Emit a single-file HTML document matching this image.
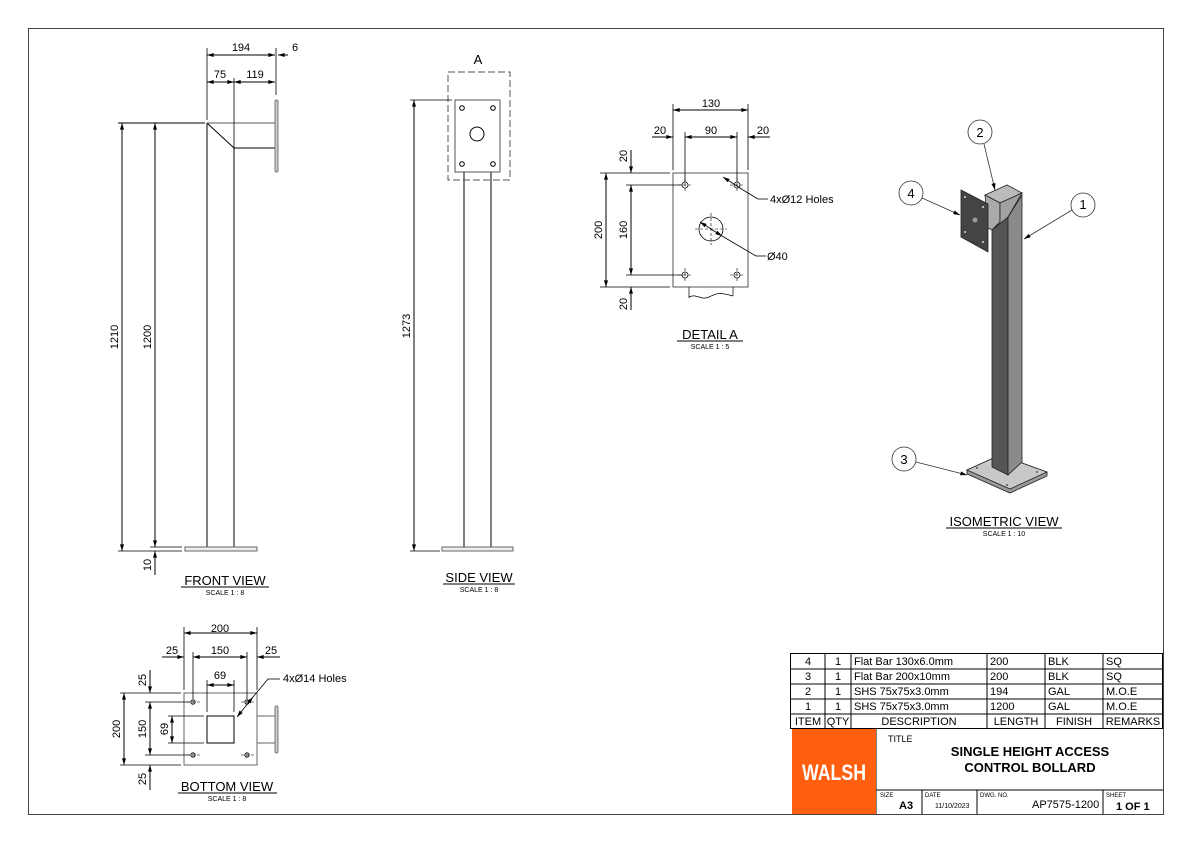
<!DOCTYPE html>
<html><head><meta charset="utf-8"><style>
html,body{margin:0;padding:0;background:#fff;}
svg{display:block;font-family:"Liberation Sans",sans-serif;}
</style></head><body>
<svg width="1191" height="842" viewBox="0 0 1191 842" xmlns="http://www.w3.org/2000/svg">
<defs>
<marker id="a" viewBox="0 0 10 6" refX="10" refY="3" markerWidth="8" markerHeight="4" orient="auto-start-reverse" markerUnits="userSpaceOnUse"><path d="M0,0L10,3L0,6z" fill="#000"/></marker>
</defs>
<rect width="1191" height="842" fill="#fff"/>
<rect x="28.5" y="28.5" width="1135" height="786" fill="none" stroke="#444" stroke-width="1"/>

<g stroke="#000" stroke-width="1" fill="none">
<!-- FRONT VIEW -->
<line x1="207" y1="123" x2="207" y2="547"/>
<line x1="234" y1="148" x2="234" y2="547"/>
<line x1="207" y1="123" x2="234" y2="148"/>
<line x1="234" y1="148" x2="275" y2="148"/>
<line x1="207" y1="123" x2="275" y2="123" stroke="#555"/>
<rect x="185" y="547" width="72" height="4" fill="#eee" stroke="#666"/>
<rect x="275" y="100" width="3" height="72" rx="1.5" fill="#ccc" stroke="#777"/>
<line x1="207" y1="48" x2="207" y2="120" stroke-width=".8"/>
<line x1="234" y1="78" x2="234" y2="148" stroke-width=".8"/>
<line x1="276" y1="48" x2="276" y2="95" stroke-width=".8"/>
<line x1="207" y1="55" x2="275" y2="55" marker-start="url(#a)" marker-end="url(#a)"/>
<line x1="278" y1="55" x2="288" y2="55" marker-start="url(#a)"/>
<line x1="207" y1="82" x2="234" y2="82" marker-start="url(#a)" marker-end="url(#a)"/>
<line x1="234" y1="82" x2="275" y2="82" marker-start="url(#a)" marker-end="url(#a)"/>
<line x1="118" y1="123" x2="205" y2="123"/>
<line x1="122" y1="123" x2="122" y2="551" marker-start="url(#a)" marker-end="url(#a)"/>
<line x1="155" y1="123" x2="155" y2="547" marker-start="url(#a)" marker-end="url(#a)"/>
<line x1="118" y1="551" x2="182" y2="551" stroke-width=".8"/>
<line x1="150" y1="547" x2="182" y2="547" stroke-width=".8"/>
<line x1="155" y1="551" x2="155" y2="575" marker-start="url(#a)"/>

<!-- SIDE VIEW -->
<line x1="464" y1="172" x2="464" y2="547"/>
<line x1="491" y1="172" x2="491" y2="547"/>
<rect x="442" y="547" width="71" height="4" fill="#eee" stroke="#666"/>
<rect x="455" y="100" width="45" height="72" stroke="#555"/>
<rect x="448" y="72" width="62" height="108" stroke="#555" stroke-dasharray="7,3"/>
<circle cx="462" cy="108" r="2.3"/><circle cx="493" cy="108" r="2.3"/>
<circle cx="462" cy="164" r="2.3"/><circle cx="493" cy="164" r="2.3"/>
<circle cx="477" cy="134" r="7"/>
<line x1="410" y1="100" x2="452" y2="100" stroke-width=".8"/>
<line x1="410" y1="551" x2="440" y2="551" stroke-width=".8"/>
<line x1="414" y1="100" x2="414" y2="551" marker-start="url(#a)" marker-end="url(#a)"/>

<!-- DETAIL A -->
<rect x="673" y="173" width="75" height="114" stroke="#555"/>
<g stroke-width=".8">
<circle cx="685" cy="185" r="3"/><circle cx="737" cy="185" r="3"/>
<circle cx="685" cy="275" r="3"/><circle cx="737" cy="275" r="3"/>
</g>
<g stroke-width=".6" stroke-dasharray="3,2">
<line x1="678" y1="185" x2="693" y2="185"/><line x1="685" y1="178" x2="685" y2="193"/>
<line x1="730" y1="185" x2="745" y2="185"/><line x1="737" y1="178" x2="737" y2="193"/>
<line x1="678" y1="275" x2="693" y2="275"/><line x1="685" y1="268" x2="685" y2="282"/>
<line x1="730" y1="275" x2="745" y2="275"/><line x1="737" y1="268" x2="737" y2="282"/>
<line x1="695" y1="229" x2="727" y2="229"/><line x1="711" y1="213" x2="711" y2="245"/>
</g>
<circle cx="711" cy="229" r="12" stroke-width=".8"/>
<path d="M689 287V298M733 287V296M689 297c8-4 12 4 20 0s10-5 24-1" stroke-width=".7"/>
<line x1="673" y1="104" x2="673" y2="170" stroke-width=".8"/>
<line x1="748" y1="104" x2="748" y2="170" stroke-width=".8"/>
<line x1="685" y1="132" x2="685" y2="182" stroke-width=".8"/>
<line x1="737" y1="132" x2="737" y2="182" stroke-width=".8"/>
<line x1="673" y1="110" x2="748" y2="110" marker-start="url(#a)" marker-end="url(#a)"/>
<line x1="685" y1="137" x2="737" y2="137" marker-start="url(#a)" marker-end="url(#a)"/>
<line x1="652" y1="137" x2="673" y2="137" marker-end="url(#a)"/>
<line x1="770" y1="137" x2="748" y2="137" marker-end="url(#a)"/>
<line x1="600" y1="173" x2="670" y2="173" stroke-width=".8"/>
<line x1="600" y1="287" x2="670" y2="287" stroke-width=".8"/>
<line x1="626" y1="185" x2="682" y2="185" stroke-width=".8"/>
<line x1="626" y1="275" x2="682" y2="275" stroke-width=".8"/>
<line x1="606" y1="173" x2="606" y2="287" marker-start="url(#a)" marker-end="url(#a)"/>
<line x1="631" y1="185" x2="631" y2="275" marker-start="url(#a)" marker-end="url(#a)"/>
<line x1="631" y1="150" x2="631" y2="173" marker-end="url(#a)"/>
<line x1="631" y1="310" x2="631" y2="287" marker-end="url(#a)"/>
<line x1="723" y1="177" x2="743" y2="190" marker-start="url(#a)" stroke-width=".8"/>
<line x1="743" y1="190" x2="758" y2="199" stroke-width=".8"/><line x1="758" y1="199" x2="768" y2="199" stroke-width=".8"/>
<line x1="700" y1="222" x2="722" y2="236" marker-start="url(#a)" marker-end="url(#a)" stroke-width=".8"/>
<line x1="722" y1="236" x2="756" y2="256" stroke-width=".8"/><line x1="756" y1="256" x2="766" y2="256" stroke-width=".8"/>

<!-- BOTTOM VIEW -->
<rect x="184" y="693" width="73" height="72" stroke="#666"/>
<rect x="207" y="716" width="27" height="27"/>
<g stroke-width=".8" fill="#bbb"><circle cx="193" cy="702" r="2.2"/><circle cx="247" cy="702" r="2.2"/><circle cx="193" cy="755" r="2.2"/><circle cx="247" cy="755" r="2.2"/></g>
<g stroke-width=".6" stroke-dasharray="3,2">
<line x1="187" y1="702" x2="200" y2="702"/><line x1="241" y1="702" x2="254" y2="702"/>
<line x1="187" y1="755" x2="200" y2="755"/><line x1="241" y1="755" x2="254" y2="755"/>
</g>
<line x1="257" y1="716" x2="275" y2="716" stroke="#666"/><line x1="257" y1="743" x2="275" y2="743" stroke="#666"/>
<rect x="275" y="706" width="3" height="47" rx="1.5" fill="#ccc" stroke="#777"/>
<line x1="184" y1="627" x2="184" y2="690" stroke-width=".8"/>
<line x1="257" y1="627" x2="257" y2="690" stroke-width=".8"/>
<line x1="193" y1="652" x2="193" y2="699" stroke-width=".8"/>
<line x1="247" y1="652" x2="247" y2="699" stroke-width=".8"/>
<line x1="207" y1="680" x2="207" y2="712" stroke-width=".8"/>
<line x1="234" y1="680" x2="234" y2="712" stroke-width=".8"/>
<line x1="184" y1="633" x2="257" y2="633" marker-start="url(#a)" marker-end="url(#a)"/>
<line x1="193" y1="657" x2="247" y2="657" marker-start="url(#a)" marker-end="url(#a)"/>
<line x1="207" y1="685" x2="234" y2="685" marker-start="url(#a)" marker-end="url(#a)"/>
<line x1="162" y1="657" x2="184" y2="657" marker-end="url(#a)"/>
<line x1="280" y1="657" x2="257" y2="657" marker-end="url(#a)"/>
<line x1="120" y1="693" x2="181" y2="693" stroke-width=".8"/>
<line x1="120" y1="765" x2="181" y2="765" stroke-width=".8"/>
<line x1="145" y1="702" x2="190" y2="702" stroke-width=".8"/>
<line x1="145" y1="755" x2="190" y2="755" stroke-width=".8"/>
<line x1="168" y1="716" x2="204" y2="716" stroke-width=".8"/>
<line x1="168" y1="743" x2="204" y2="743" stroke-width=".8"/>
<line x1="124" y1="693" x2="124" y2="765" marker-start="url(#a)" marker-end="url(#a)"/>
<line x1="150" y1="702" x2="150" y2="755" marker-start="url(#a)" marker-end="url(#a)"/>
<line x1="172" y1="716" x2="172" y2="743" marker-start="url(#a)" marker-end="url(#a)"/>
<line x1="150" y1="670" x2="150" y2="693" marker-end="url(#a)"/>
<line x1="150" y1="790" x2="150" y2="765" marker-end="url(#a)"/>
<line x1="237" y1="717" x2="253" y2="697" marker-start="url(#a)" marker-end="url(#a)" stroke-width=".8"/>
<line x1="253" y1="697" x2="268" y2="679" stroke-width=".8"/><line x1="268" y1="679" x2="280" y2="679" stroke-width=".8"/>
</g>

<!-- ISOMETRIC -->
<g stroke="#222" stroke-width=".8">
<polygon points="967,470 1000,455 1047,472 1047,476 1010,493 967,474" fill="#9a9a9a"/>
<polygon points="967,470 1000,455 1047,472 1010,489" fill="#c8c8c8"/>
<polygon points="992,230 1008,217 1008,475 992,467" fill="#555"/>
<polygon points="1008,217 1022,195 1022,462 1008,475" fill="#8a8a8a"/>
<polygon points="985,195 1007,185 1022,193 1000,203" fill="#bbb"/>
<polygon points="985,195 1000,203 1000,222 992,230 988,228" fill="#aaa"/>
<polygon points="1000,203 1022,193 1008,217 992,230 1000,222" fill="#a2a2a2"/>
<polygon points="961,190 988,204 988,252 961,237" fill="#444"/>
<g fill="#ddd" stroke="none"><circle cx="965" cy="197" r="1"/><circle cx="983" cy="207" r="1"/><circle cx="965" cy="232" r="1"/><circle cx="983" cy="242" r="1"/>
<circle cx="975" cy="220" r="2.5" fill="#999"/>
<circle cx="977" cy="468" r="1" fill="#555"/><circle cx="1000" cy="459" r="1" fill="#555"/><circle cx="1037" cy="472" r="1" fill="#555"/><circle cx="1007" cy="485" r="1" fill="#555"/></g>
</g>
<g stroke="#333" stroke-width=".8" fill="#fff">
<circle cx="1083" cy="205" r="12"/><circle cx="980" cy="132" r="12"/><circle cx="904" cy="459" r="12"/><circle cx="911" cy="193" r="12"/>
<line x1="1072" y1="210" x2="1024" y2="239" marker-end="url(#a)"/>
<line x1="984" y1="144" x2="995" y2="190" marker-end="url(#a)"/>
<line x1="916" y1="462" x2="967" y2="475" marker-end="url(#a)"/>
<line x1="922" y1="198" x2="960" y2="215" marker-end="url(#a)"/>
</g>

<!-- TEXT -->
<g font-size="11" fill="#000" text-anchor="middle">
<text x="241" y="51">194</text><text x="295" y="51">6</text>
<text x="220" y="78">75</text><text x="255" y="78">119</text>
<text transform="translate(118,337) rotate(-90)">1210</text>
<text transform="translate(151,337) rotate(-90)">1200</text>
<text transform="translate(151,565) rotate(-90)">10</text>
<text x="478" y="64" font-size="13">A</text>
<text transform="translate(410,326) rotate(-90)">1273</text>
<text x="711" y="107">130</text><text x="711" y="134">90</text>
<text x="660" y="134">20</text><text x="763" y="134">20</text>
<text transform="translate(602,230) rotate(-90)">200</text>
<text transform="translate(627,230) rotate(-90)">160</text>
<text transform="translate(627,156) rotate(-90)">20</text>
<text transform="translate(627,304) rotate(-90)">20</text>
<text x="770" y="203" text-anchor="start">4xØ12 Holes</text>
<text x="767" y="260" text-anchor="start">Ø40</text>
<text x="220" y="632">200</text><text x="220" y="654">150</text><text x="220" y="679">69</text>
<text x="172" y="654">25</text><text x="271" y="654">25</text>
<text transform="translate(120,729) rotate(-90)">200</text>
<text transform="translate(146,729) rotate(-90)">150</text>
<text transform="translate(168,729) rotate(-90)">69</text>
<text transform="translate(146,680) rotate(-90)">25</text>
<text transform="translate(146,779) rotate(-90)">25</text>
<text x="283" y="682" text-anchor="start">4xØ14 Holes</text>
<text x="1083" y="209" font-size="13">1</text><text x="980" y="137" font-size="13">2</text>
<text x="904" y="464" font-size="13">3</text><text x="911" y="198" font-size="13">4</text>
<g font-size="13"><text x="225" y="585">FRONT VIEW</text><text x="479" y="582">SIDE VIEW</text><text x="710" y="339">DETAIL  A</text><text x="1004" y="526">ISOMETRIC VIEW</text><text x="227" y="791">BOTTOM VIEW</text></g>
<g font-size="7"><text x="225" y="595">SCALE 1 : 8</text><text x="479" y="592">SCALE 1 : 8</text><text x="710" y="349">SCALE 1 : 5</text><text x="1004" y="536">SCALE 1 : 10</text><text x="227" y="801">SCALE 1 : 8</text></g>
</g>
<g stroke="#000" stroke-width="1">
<line x1="181" y1="587" x2="269" y2="587"/><line x1="443" y1="584" x2="515" y2="584"/><line x1="677" y1="341" x2="743" y2="341"/><line x1="946" y1="528" x2="1062" y2="528"/><line x1="178" y1="793" x2="277" y2="793"/>
</g>

<!-- TITLE BLOCK -->
<g stroke="#000" stroke-width="1" fill="none">
<rect x="790.5" y="653.5" width="372" height="75"/>
<line x1="790" y1="669" x2="1163" y2="669"/><line x1="790" y1="684" x2="1163" y2="684"/>
<line x1="790" y1="699" x2="1163" y2="699"/><line x1="790" y1="714" x2="1163" y2="714"/>
<line x1="825" y1="653" x2="825" y2="729"/><line x1="851" y1="653" x2="851" y2="729"/>
<line x1="987" y1="653" x2="987" y2="729"/><line x1="1045" y1="653" x2="1045" y2="729"/>
<line x1="1103" y1="653" x2="1103" y2="729"/>
<line x1="876" y1="729" x2="876" y2="814"/><line x1="876" y1="790" x2="1163" y2="790"/>
<line x1="922" y1="790" x2="922" y2="814"/><line x1="977" y1="790" x2="977" y2="814"/><line x1="1103" y1="790" x2="1103" y2="814"/>
</g>
<rect x="792" y="729" width="84" height="85" fill="#ff5f0f"/>
<text x="834" y="780" font-size="22" font-weight="bold" fill="#fff" text-anchor="middle" textLength="64" lengthAdjust="spacingAndGlyphs">WALSH</text>
<g font-size="11" fill="#000">
<g text-anchor="middle"><text x="808" y="665">4</text><text x="808" y="680">3</text><text x="808" y="695">2</text><text x="808" y="710">1</text>
<text x="838" y="665">1</text><text x="838" y="680">1</text><text x="838" y="695">1</text><text x="838" y="710">1</text>
<text x="808" y="725">ITEM</text><text x="838" y="725">QTY</text><text x="919" y="725">DESCRIPTION</text><text x="1016" y="725">LENGTH</text><text x="1074" y="725">FINISH</text><text x="1133" y="725">REMARKS</text></g>
<text x="854" y="665">Flat Bar 130x6.0mm</text><text x="854" y="680">Flat Bar 200x10mm</text><text x="854" y="695">SHS 75x75x3.0mm</text><text x="854" y="710">SHS 75x75x3.0mm</text>
<text x="990" y="665">200</text><text x="990" y="680">200</text><text x="990" y="695">194</text><text x="990" y="710">1200</text>
<text x="1048" y="665">BLK</text><text x="1048" y="680">BLK</text><text x="1048" y="695">GAL</text><text x="1048" y="710">GAL</text>
<text x="1106" y="665">SQ</text><text x="1106" y="680">SQ</text><text x="1106" y="695">M.O.E</text><text x="1106" y="710">M.O.E</text>
<text x="888" y="742" font-size="9">TITLE</text>
<text x="1030" y="756" font-size="13" font-weight="bold" text-anchor="middle">SINGLE HEIGHT ACCESS</text>
<text x="1030" y="772" font-size="13" font-weight="bold" text-anchor="middle">CONTROL BOLLARD</text>
<g font-size="6"><text x="880" y="797">SIZE</text><text x="925" y="797">DATE</text><text x="980" y="797">DWG. NO.</text><text x="1106" y="797">SHEET</text></g>
<text x="899" y="809" font-weight="bold">A3</text>
<text x="935" y="808" font-size="7">11/10/2023</text>
<text x="1032" y="808">AP7575-1200</text>
<text x="1116" y="810" font-weight="bold">1  OF 1</text>
</g>
</svg>
</body></html>
